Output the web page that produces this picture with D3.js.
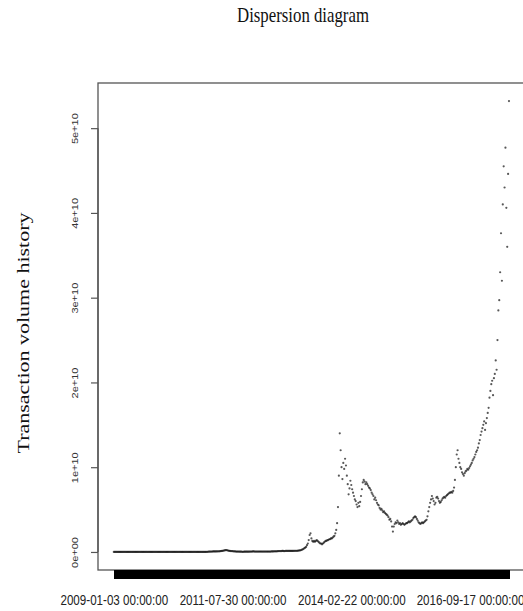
<!DOCTYPE html>
<html>
<head>
<meta charset="utf-8">
<script src="https://cdn.jsdelivr.net/npm/d3@7"></script>
<style>
  html, body { margin: 0; padding: 0; background: #fff; }
  svg { display: block; }
</style>
</head>
<body>
<svg id="chart" width="523" height="611"></svg>
<script>
// Weekly transaction volume in units of 1e9, one array per calendar year.
// The first week starts on 2009-01-03 and the series runs every 7 days.
const vol2009 = [
  0,0,0,0,0,0,0,0,0,0,0,0,0,0,0,0,0,0,0,0,0,0,0,0,0,0,
  0,0,0,0,0,0,0,0,0,0,0,0,0,0,0,0,0,0,0,0,0,0,0,0,0,0
];
const vol2010 = [
  0,0,0,0,0,0,0,0,0,0,0,0,0,0,0,0,0,0,0,0,0,0,0,0,0,0,
  0,0,0,0,0,0,0,0,0,0,0,0,0,0,0.01,0.01,0.01,0.01,0.01,0.01,0.01,0.01,0.01,0.01,0.01,0.01
];
const vol2011 = [
  0.01,0.02,0.02,0.03,0.03,0.04,0.05,0.05,0.06,0.06,0.06,0.06,0.06,0.07,
  0.07,0.08,0.09,0.10,0.12,0.14,0.16,0.18,0.21,0.22,0.19,0.16,0.14,0.12,
  0.11,0.10,0.09,0.08,0.07,0.06,0.05,0.05,0.04,0.04,0.03,0.03,
  0.03,0.02,0.02,0.03,0.03,0.03,0.03,0.03,0.03,0.03,0.04,0.05
];
const vol2012 = [
  0.05,0.06,0.06,0.05,0.05,0.05,0.05,0.05,0.04,0.05,
  0.05,0.05,0.05,0.05,0.05,0.05,0.05,0.05,0.05,0.05,
  0.05,0.05,0.06,0.06,0.06,0.07,0.08,0.08,0.08,0.09,
  0.10,0.11,0.11,0.11,0.12,0.12,0.11,0.11,0.12,0.12,
  0.12,0.12,0.12,0.12,0.12,0.12,0.12,0.12,0.13,0.13,
  0.14,0.14
];
const vol2013 = [
  0.15,0.17,0.18,0.20,0.25,
  0.30,0.35,0.45,0.50,
  0.60,0.80,1.00,1.40,
  2.00,2.20,1.60,
  1.30,1.20,1.30,1.20,1.30,1.40,1.30,
  1.20,1.10,1.00,1.00,0.90,1.00,1.10,1.20,1.30,1.30,
  1.40,1.40,1.50,1.50,1.60,1.60,1.70,1.80,
  1.90,2.20,2.60,
  3.40,5.30,9.00,14.00,12.00,10.00,8.60,10.50,9.80
];
const vol2014 = [
  11.0,10.2,9.0,8.0,
  6.8,7.5,8.4,7.9,
  7.4,7.0,6.6,6.2,
  6.0,5.6,5.3,5.8,5.4,5.9,
  6.6,7.4,8.2,8.5,8.3,
  8.0,8.2,8.0,7.8,7.6,7.5,
  7.3,7.0,6.8,6.6,6.2,6.4,6.1,5.8,
  5.6,5.5,5.2,5.0,5.1,4.9,4.7,4.8,4.6,4.5,4.4,
  4.3,4.1,3.8,3.9
];
const vol2015 = [
  3.6,3.0,2.4,3.0,
  3.3,3.5,3.4,3.7,3.5,3.3,3.4,3.2,3.3,3.4,3.3,3.2,3.3,3.4,
  3.4,3.5,3.6,3.5,3.6,3.7,3.8,4.0,4.1,4.2,4.1,3.9,3.7,
  3.5,3.4,3.3,3.4,3.5,3.4,3.5,3.6,
  3.7,3.8,4.2,4.8,5.3,
  5.8,6.2,6.6,6.3,
  6.0,5.6,5.8,6.4
];
const vol2016 = [
  6.5,6.3,6.0,5.8,5.9,6.1,
  6.3,6.4,6.5,6.4,6.6,6.7,
  6.8,6.9,7.0,7.0,7.1,7.0,7.2,
  7.6,8.5,10.0,11.5,12.0,11.0,
  10.5,10.0,9.8,9.4,9.2,9.0,9.3,
  9.5,9.6,9.8,9.7,9.9,10.1,
  10.3,10.5,10.8,11.0,11.2,11.5,11.8,12.0,
  12.3,12.8,13.2,13.8,14.2,14.6
];
const vol2017 = [
  15.0,15.4,14.4,15.2,15.8,16.4,17.0,18.2,
  19.0,19.8,20.2,18.5,20.5,21.0,
  22.6,21.5,25.0,28.5,
  29.7,33.0,37.6,32.0,41.0,45.5,
  43.0,47.7,40.6,36.0,44.6,53.2
];

const volume = [].concat(vol2009, vol2010, vol2011, vol2012, vol2013,
                         vol2014, vol2015, vol2016, vol2017);

// Category labels: one timestamp per weekly observation
const startDate = new Date(Date.UTC(2009, 0, 3));
const fmt = d3.utcFormat("%Y-%m-%d %H:%M:%S");
const categories = volume.map((_, i) => fmt(d3.utcDay.offset(startDate, 7 * i)));

const xTickLabels = ["2009-01-03 00:00:00", "2011-07-30 00:00:00",
                     "2014-02-22 00:00:00", "2016-09-17 00:00:00"];
const yTickValues = [0, 10, 20, 30, 40, 50];
const yTickLabels = ["0e+00", "1e+10", "2e+10", "3e+10", "4e+10", "5e+10"];

const titleText = "Dispersion diagram";
const yTitleText = "Transaction volume history";

// ---- layout ----
const plot = { left: 98, right: 524.8, top: 83, bottom: 570 };
const squeeze = 0.8; // horizontal text condensation

const svg = d3.select("#chart");

// 4% padding on both axes, like base graphics defaults
const x = d3.scalePoint()
  .domain(categories)
  .range([plot.left, plot.right])
  .padding(0.04 * (categories.length - 1));

const yMax = d3.max(volume);
const yPad = 0.04 * yMax;
const y = d3.scaleLinear()
  .domain([-yPad, yMax + yPad])
  .range([plot.bottom, plot.top]);

// plot frame
svg.append("rect")
  .attr("x", plot.left).attr("y", plot.top)
  .attr("width", plot.right - plot.left).attr("height", plot.bottom - plot.top)
  .attr("fill", "none").attr("stroke", "#555").attr("stroke-width", 1.3);

// points
svg.append("g")
  .selectAll("circle")
  .data(volume)
  .join("circle")
  .attr("cx", (d, i) => x(categories[i]))
  .attr("cy", d => y(d))
  .attr("r", 1.1)
  .attr("fill", "#111")
  .attr("fill-opacity", 0.7);

// x axis: one tick per category, labels on a few of them
const xAxis = d3.axisBottom(x)
  .tickValues(categories)
  .tickSize(9)
  .tickPadding(15.5)
  .tickFormat(d => xTickLabels.includes(d) ? d : "");

svg.append("g")
  .attr("transform", `translate(0,${plot.bottom})`)
  .call(xAxis)
  .call(g => g.select(".domain").remove())
  .call(g => g.selectAll(".tick line")
    .attr("stroke", "#000").attr("stroke-width", 1)
    .attr("shape-rendering", "crispEdges"))
  .call(g => g.selectAll(".tick text")
    .attr("fill", "#222")
    .attr("font-family", "'Liberation Sans', Arial, sans-serif")
    .attr("font-size", "14.5px")
    .attr("transform", `scale(${squeeze},1)`));

// y axis with rotated labels
const yAxis = d3.axisLeft(y)
  .tickValues(yTickValues)
  .tickSize(7)
  .tickFormat((d, i) => yTickLabels[i]);

svg.append("g")
  .attr("transform", `translate(${plot.left},0)`)
  .call(yAxis)
  .call(g => g.select(".domain").remove())
  .call(g => g.selectAll(".tick line").attr("stroke", "#555").attr("stroke-width", 1.2))
  .call(g => g.selectAll(".tick text")
    .attr("x", null).attr("dy", null)
    .attr("text-anchor", "middle")
    .attr("fill", "#333")
    .attr("font-family", "'Liberation Sans', Arial, sans-serif")
    .attr("font-size", "11px")
    .attr("transform", `translate(-19.7,0) scale(${squeeze},1) rotate(-90)`));

svg.append("line")
  .attr("x1", plot.left).attr("x2", plot.left)
  .attr("y1", y(yTickValues[0])).attr("y2", y(yTickValues[yTickValues.length - 1]))
  .attr("stroke", "#555").attr("stroke-width", 1.3);

// title
svg.append("text")
  .attr("transform", `translate(303,21.7) scale(${squeeze},1)`)
  .attr("text-anchor", "middle")
  .attr("font-family", "'Liberation Serif', 'Times New Roman', serif")
  .attr("font-size", "21px")
  .attr("fill", "#111")
  .text(titleText);

// y-axis title
svg.append("text")
  .attr("transform", `translate(29,333) scale(${squeeze},1) rotate(-90)`)
  .attr("text-anchor", "middle")
  .attr("font-family", "'Liberation Serif', 'Times New Roman', serif")
  .attr("font-size", "22px")
  .attr("fill", "#111")
  .text(yTitleText);
</script>
</body>
</html>
